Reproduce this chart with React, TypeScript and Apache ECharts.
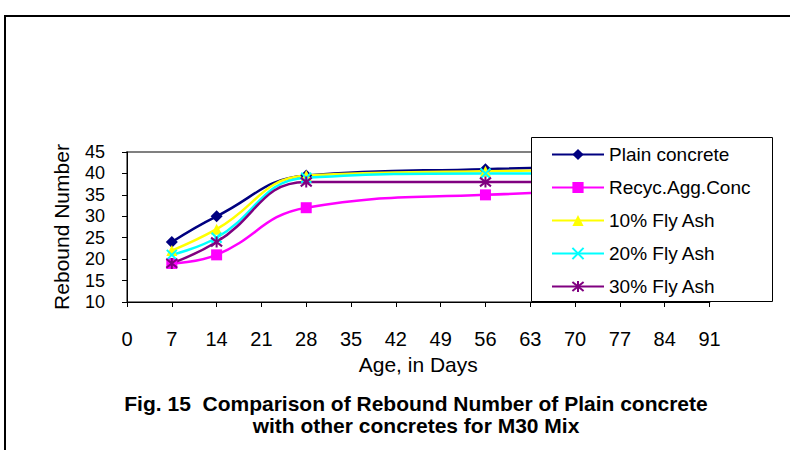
import React, { useEffect, useRef } from "react";
import * as echarts from "echarts";

const days = [7, 14, 28, 56, 90];
const plain = [24, 30, 39.5, 41, 42];
const recyc = [19, 21, 32, 35, 36];
const fly10 = [22, 27, 39.5, 40.5, 41];
const fly20 = [21, 25, 39, 40, 40];
const fly30 = [19, 24, 38, 38, 38];
const seriesNames = ["Plain concrete", "Recyc.Agg.Conc", "10% Fly Ash", "20% Fly Ash", "30% Fly Ash"];
const titleLines = ["Fig. 15  Comparison of Rebound Number of Plain concrete", "with other concretes for M30 Mix"];

const FONT = "Liberation Sans, Arial, sans-serif";

export default function App() {
  const ref = useRef<HTMLDivElement>(null);
  useEffect(() => {
    if (!ref.current) return;
    const chart = echarts.init(ref.current, undefined, { renderer: "svg" });
    const pts = (ys: number[]) => days.map((d, i) => [d, ys[i]]);
    const mk = (name: string, ys: number[], color: string, symbol: string, size: number, stroke = false) => ({
      name,
      type: "line",
      data: pts(ys),
      smooth: 0.45,
      symbol,
      symbolSize: size,
      lineStyle: { color, width: 2.5 },
      itemStyle: stroke
        ? { color, borderColor: color, borderWidth: 2 }
        : { color, borderWidth: 0 },
      z: 2,
    });
    chart.setOption({
      animation: false,
      backgroundColor: "#fff",
      textStyle: { fontFamily: FONT },
      grid: {
        left: 127,
        top: 152,
        width: 582.5,
        height: 150,
        show: true,
        borderColor: "#808080",
        borderWidth: 2,
        backgroundColor: "transparent",
      },
      xAxis: {
        type: "value",
        min: 0,
        max: 91,
        interval: 7,
        name: "Age, in Days",
        nameLocation: "middle",
        nameGap: 52,
        nameTextStyle: { fontSize: 21, color: "#000", fontFamily: FONT },
        axisLine: { show: true, lineStyle: { color: "#000", width: 1 } },
        axisTick: { show: true, length: 5, lineStyle: { color: "#000" } },
        axisLabel: { fontSize: 20, color: "#000", margin: 27, fontFamily: FONT },
        splitLine: { show: false },
      },
      yAxis: {
        type: "value",
        min: 10,
        max: 45,
        interval: 5,
        name: "Rebound Number",
        nameLocation: "middle",
        nameGap: 55,
        nameTextStyle: { fontSize: 21, color: "#000", fontFamily: FONT },
        axisLine: { show: true, lineStyle: { color: "#000", width: 1 } },
        axisTick: { show: true, length: 5, lineStyle: { color: "#000" } },
        axisLabel: { fontSize: 18, color: "#000", margin: 22, fontFamily: FONT },
        splitLine: { show: false },
      },
      legend: {
        orient: "vertical",
        left: 531,
        top: 137,
        padding: [8, 0, 0, 20],
        itemGap: 14,
        itemWidth: 52,
        itemHeight: 14,
        textStyle: { fontSize: 19, color: "#000", fontFamily: FONT },
        data: seriesNames,
        z: 6,
      },
      graphic: [
        {
          type: "rect",
          silent: true,
          z: 0,
          shape: { x: 5, y: 16, width: 900, height: 600 },
          style: { fill: "none", stroke: "#000", lineWidth: 2 },
        },
        {
          type: "rect",
          silent: true,
          z: 4,
          shape: { x: 531.5, y: 137.5, width: 241, height: 164 },
          style: { fill: "#fff", stroke: "#000", lineWidth: 1 },
        },
        {
          type: "text",
          silent: true,
          x: 416,
          y: 392,
          style: {
            text: titleLines.join("\n"),
            align: "center",
            verticalAlign: "top",
            fontSize: 21,
            fontWeight: "bold",
            fontFamily: FONT,
            lineHeight: 22,
            fill: "#000",
          },
        },
      ],
      series: [
        mk(seriesNames[0], plain, "#000080", "diamond", 12),
        mk(seriesNames[1], recyc, "#FF00FF", "rect", 11),
        mk(seriesNames[2], fly10, "#FFFF00", "triangle", 11),
        mk(seriesNames[3], fly20, "#00FFFF", "path://M1,1L9,9M9,1L1,9", 10, true),
        mk(seriesNames[4], fly30, "#800080", "path://M1,1L9,9M9,1L1,9M5,0L5,10", 11, true),
      ],
    });
    return () => chart.dispose();
  }, []);
  return (
    <div
      ref={ref}
      style={{ position: "absolute", left: 0, top: 0, width: 790, height: 450 }}
    />
  );
}
